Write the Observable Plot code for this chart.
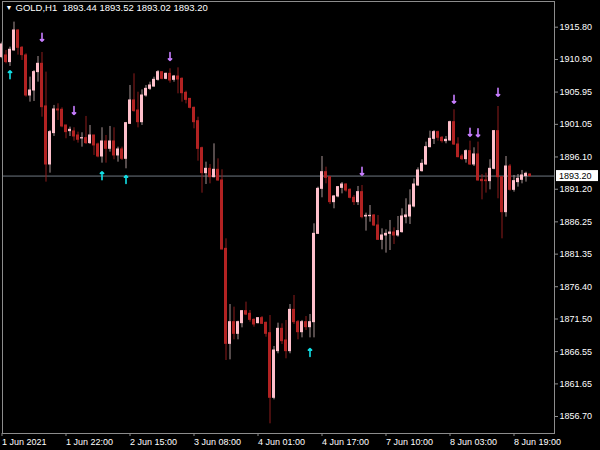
<!DOCTYPE html>
<html><head><meta charset="utf-8">
<script src="https://cdn.jsdelivr.net/npm/d3@7"></script>
<script src="https://cdn.jsdelivr.net/npm/@observablehq/plot@0.6"></script>
<style>
html,body{margin:0;padding:0;background:#000;}
#chart{width:600px;height:450px;overflow:hidden;}
</style></head><body><div id="chart"></div>
<script>
const symbolTitle = "GOLD,H1";
const lastQuote = [1893.44, 1893.52, 1893.02, 1893.20];

const open = [1911.25,1911.51,1910.50,1912.27,1915.30,1912.67,1911.51,1905.43,1906.19,1908.98,
1910.24,1903.77,1894.96,1899.72,1903.31,1903.26,1900.88,1900.02,1899.97,1899.36,
1898.91,1898.96,1898.20,1899.36,1898.00,1896.17,1898.45,1897.34,1898.45,1896.33,
1897.24,1895.82,1901.13,1904.68,1903.15,1901.38,1905.43,1906.44,1906.79,1907.81,
1908.97,1907.96,1908.72,1907.81,1908.31,1907.96,1905.83,1904.92,1903.56,1901.53,
1897.43,1893.64,1894.30,1893.03,1894.15,1892.53,1882.15,1867.73,1871.02,1869.25,
1870.87,1872.69,1872.29,1871.37,1870.87,1871.63,1870.92,1869.35,1859.54,1866.62,
1870.01,1868.24,1866.62,1872.89,1871.02,1869.50,1871.02,1870.26,1871.02,1884.43,
1891.26,1893.79,1893.03,1889.24,1890.10,1891.41,1891.92,1891.11,1889.90,1889.24,
1890.76,1887.06,1887.11,1887.21,1885.70,1883.52,1884.18,1884.43,1884.63,1884.18,
1884.69,1886.96,1887.06,1888.58,1891.77,1893.95,1894.96,1897.59,1898.85,1899.87,
1899.01,1898.50,1898.60,1901.38,1897.99,1896.17,1895.77,1896.98,1894.96,1896.48,
1892.63,1892.53,1892.43,1894.30,1900.02,1893.03,1887.72,1894.65,1891.11,1892.28,
1892.63,1893.19,1893.44];

const close = [1913.18,1910.50,1912.37,1915.30,1912.67,1911.56,1905.43,1906.19,1908.98,1910.24,
1903.66,1894.96,1899.87,1903.31,1903.16,1900.73,1899.87,1900.22,1899.21,1898.71,
1898.96,1898.20,1899.36,1897.85,1896.17,1898.45,1897.34,1898.45,1896.33,1897.24,
1895.82,1901.23,1904.68,1903.06,1901.38,1905.43,1906.44,1906.95,1907.81,1908.97,
1907.96,1908.72,1907.71,1908.31,1907.86,1905.78,1904.77,1903.56,1901.38,1897.33,
1893.64,1894.30,1893.03,1894.15,1892.53,1882.05,1867.73,1871.02,1869.25,1871.02,
1872.69,1872.18,1871.37,1870.67,1871.63,1870.77,1869.25,1859.54,1866.72,1870.01,
1868.14,1866.62,1872.89,1871.02,1869.50,1871.02,1870.26,1871.02,1884.43,1891.26,
1893.79,1892.93,1889.24,1890.10,1891.52,1891.92,1891.01,1889.90,1889.24,1890.76,
1886.96,1887.16,1887.16,1885.70,1883.52,1884.18,1884.43,1884.63,1884.18,1884.84,
1887.06,1887.22,1888.73,1891.92,1894.05,1895.06,1897.59,1898.85,1899.87,1899.01,
1898.50,1898.70,1901.38,1897.99,1896.07,1895.77,1896.98,1894.96,1896.48,1892.53,
1892.43,1892.43,1894.30,1900.02,1893.03,1887.72,1894.65,1891.11,1892.43,1892.78,
1893.29,1893.54,1893.20];

const high = [1913.53,1912.27,1912.77,1916.57,1915.40,1912.87,1911.76,1908.22,1909.23,1911.35,
1911.96,1908.98,1900.12,1903.92,1904.17,1903.56,1900.88,1900.63,1900.53,1899.87,
1899.77,1902.25,1900.88,1899.36,1898.20,1900.53,1899.36,1900.73,1900.53,1897.59,
1897.59,1901.34,1906.95,1908.72,1905.93,1906.29,1906.95,1907.45,1908.21,1909.22,
1908.97,1908.82,1909.48,1908.47,1909.63,1908.11,1906.09,1904.92,1903.66,1902.14,
1897.59,1895.31,1894.95,1898.09,1895.81,1894.15,1883.67,1873.70,1873.30,1871.17,
1872.79,1874.06,1872.79,1871.53,1871.68,1871.88,1871.02,1872.03,1867.33,1870.87,
1870.77,1871.28,1873.70,1875.07,1871.28,1871.28,1871.88,1872.19,1885.95,1891.52,
1896.17,1894.55,1893.13,1890.25,1891.62,1892.22,1892.02,1891.26,1890.25,1891.62,
1891.77,1887.57,1888.73,1887.37,1887.21,1885.19,1885.04,1886.46,1885.34,1887.06,
1888.23,1889.75,1891.11,1892.78,1894.45,1895.67,1898.35,1900.02,1900.12,1900.02,
1899.21,1899.21,1901.53,1903.26,1899.01,1896.48,1897.18,1898.50,1897.49,1898.35,
1893.44,1893.64,1895.67,1900.12,1903.76,1893.14,1896.17,1894.96,1893.29,1893.44,
1894.05,1893.79,1893.52];

const low = [1911.00,1910.24,1909.84,1912.16,1911.56,1910.75,1905.18,1904.42,1904.52,1907.46,
1902.14,1892.28,1893.64,1899.21,1901.64,1900.53,1898.86,1899.21,1898.50,1898.20,
1897.59,1898.00,1898.00,1896.33,1895.97,1895.16,1895.16,1896.83,1895.67,1895.31,
1895.57,1894.30,1901.03,1902.90,1900.52,1900.88,1905.18,1906.19,1906.69,1907.61,
1907.81,1907.81,1907.30,1907.45,1905.68,1904.42,1904.16,1903.40,1900.37,1895.46,
1890.60,1891.92,1892.02,1892.93,1892.42,1882.00,1865.20,1865.30,1868.34,1868.34,
1870.16,1872.03,1871.02,1870.26,1870.77,1870.67,1868.74,1855.59,1859.23,1866.22,
1867.63,1865.46,1866.22,1870.67,1868.34,1868.64,1869.76,1868.64,1868.64,1884.33,
1889.90,1892.02,1888.88,1888.23,1889.90,1890.50,1890.76,1889.74,1888.73,1888.73,
1886.71,1884.84,1886.20,1885.54,1883.42,1882.00,1881.50,1881.90,1882.81,1883.93,
1884.53,1885.95,1885.85,1888.38,1891.62,1893.79,1894.81,1897.49,1897.99,1898.50,
1898.20,1898.10,1898.50,1897.84,1895.97,1895.57,1895.16,1894.81,1894.65,1892.43,
1889.59,1890.61,1891.11,1894.15,1889.75,1883.67,1886.96,1890.91,1890.76,1891.52,
1892.02,1892.28,1893.02];

// Fractal arrows (bar index, price position)
const fractalUpIdx = [10, 18, 42, 90, 113, 117, 119, 124];
const fractalUpPrice = [1914.28, 1903.15, 1911.35, 1893.94, 1904.87, 1899.86, 1899.77, 1905.93];
const fractalDownIdx = [2, 25, 31, 77];
const fractalDownPrice = [1908.57, 1893.24, 1892.68, 1866.41];

const yTicks = [1915.80, 1910.90, 1905.95, 1901.05, 1896.10, 1891.20, 1886.25, 1881.35, 1876.40, 1871.50, 1866.55, 1861.65, 1856.70];
const xTickIdx = [0, 16, 32, 48, 64, 80, 96, 112, 128];
const xTickLabels = ["1 Jun 2021", "1 Jun 22:00", "2 Jun 15:00", "3 Jun 08:00", "4 Jun 01:00", "4 Jun 17:00", "7 Jun 10:00", "8 Jun 03:00", "8 Jun 19:00"];

const bars = open.map((o, i) => ({i, open: o, high: high[i], low: low[i], close: close[i], up: close[i] > o}));
const upArrows = fractalUpIdx.map((i, k) => ({i, p: fractalUpPrice[k]}));
const downArrows = fractalDownIdx.map((i, k) => ({i, p: fractalDownPrice[k]}));

const BULL = "#ffc0cb", BEAR = "#b22222", BULLWICK = "#a89494", BEARWICK = "#8e1d1d";
const FRAME = "#8c8c8c";
const FONT = "'Liberation Sans', Arial, sans-serif";
const UPARROW = "#c77dff", DOWNARROW = "#12e0e6";

const chart = Plot.plot({
  width: 600, height: 450,
  marginTop: 1, marginBottom: 17, marginLeft: 2, marginRight: 46,
  style: {background: "#000", color: "#fff", fontFamily: FONT, fontSize: "9px"},
  x: {domain: [0, 138], range: [1.5, 553.5], label: null},
  y: {domain: [1854.12, 1919.70], label: null},
  marks: [
    Plot.ruleY([lastQuote[3]], {stroke: "#6f7782"}),
    Plot.ruleX(bars, {x: "i", y1: "low", y2: "high", stroke: d => d.up ? BULLWICK : BEARWICK, strokeWidth: 1}),
    Plot.rect(bars, {x1: d => d.i - 0.375, x2: d => d.i + 0.375, y1: "open", y2: "close",
      fill: d => d.up ? BULL : BEAR, insetTop: -0.5, insetBottom: -0.5}),
    Plot.vector(upArrows, {x: "i", y: "p", length: 8, rotate: 180, anchor: "middle", stroke: UPARROW, strokeWidth: 1.6}),
    Plot.vector(downArrows, {x: "i", y: "p", length: 8, rotate: 0, anchor: "middle", stroke: DOWNARROW, strokeWidth: 1.6}),
    Plot.frame({stroke: FRAME}),
    Plot.axisY(yTicks, {anchor: "right", label: null, tickFormat: d => d.toFixed(2), tickSize: 3, tickPadding: 2, stroke: FRAME, fill: "#fff", fontSize: 9}),
    Plot.axisX(xTickIdx, {anchor: "bottom", label: null, tickFormat: d => xTickLabels[xTickIdx.indexOf(d)], textAnchor: "start", tickSize: 3, tickPadding: 2, stroke: FRAME, fill: "#fff", fontSize: 9}),
    Plot.text(["▼"], {frameAnchor: "top-left", dx: 3, dy: 4, lineAnchor: "top", textAnchor: "start", fill: "#fff", fontSize: 7}),
    Plot.text([`${symbolTitle}\u00a0\u00a0${lastQuote.map(d => d.toFixed(2)).join(" ")}`], {frameAnchor: "top-left", dx: 13, dy: 3, lineAnchor: "top", textAnchor: "start", fill: "#fff", fontSize: 9.5})
  ]
});

document.getElementById("chart").append(chart);

// current price tag on the right axis
const svg = d3.select(chart.tagName.toLowerCase() === "svg" ? chart : chart.querySelector("svg"));
const yPos = chart.scale("y").apply(lastQuote[3]);
const g = svg.append("g").attr("text-anchor", "start");
g.append("rect").attr("x", 556).attr("y", yPos - 5.5).attr("width", 42).attr("height", 11).attr("fill", "#fff");
g.append("text").attr("x", 559).attr("y", yPos).attr("dy", "0.35em").attr("fill", "#000")
  .attr("text-anchor", "start").attr("font-size", 9).attr("font-family", FONT).text(lastQuote[3].toFixed(2));
</script>
</body></html>
